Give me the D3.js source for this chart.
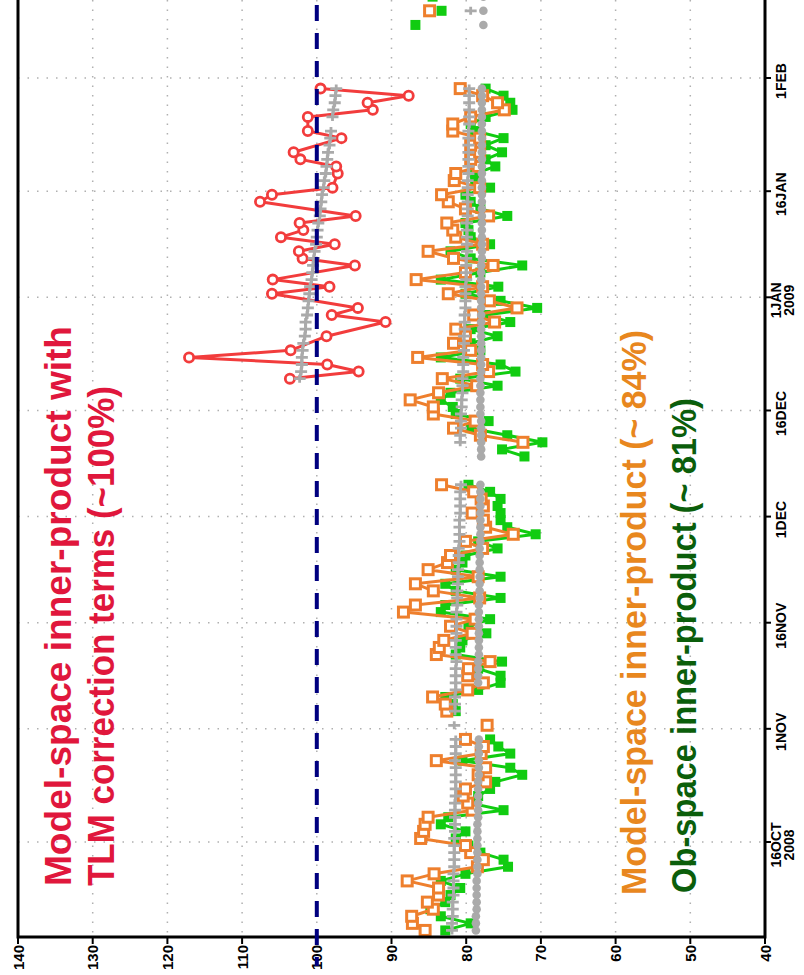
<!DOCTYPE html>
<html>
<head>
<meta charset="utf-8">
<script src="https://cdn.jsdelivr.net/npm/d3@7"></script>
<style>
body { margin: 0; background: #fff; }
svg text { font-family: "Liberation Sans", Arial, sans-serif; font-weight: bold; }
</style>
</head>
<body>
<svg width="804" height="975"></svg>
<script>
var gap = function (n) { return new Array(n).fill(null); };

// value axis (drawn along the bottom, 140 on the left)
var valueTicks = [140, 130, 120, 110, 100, 90, 80, 70, 60, 50, 40];

// date axis (drawn along the right side, time runs upward)
var dateTicks = [Date.UTC(2008,9,16), Date.UTC(2008,10,1), Date.UTC(2008,10,16), Date.UTC(2008,11,1),
                 Date.UTC(2008,11,16), Date.UTC(2009,0,1), Date.UTC(2009,0,16), Date.UTC(2009,1,1)];
var dateLabels = [["16OCT", "2008"], ["1NOV"], ["16NOV"], ["1DEC"], ["16DEC"], ["1JAN", "2009"], ["16JAN"], ["1FEB"]];

// daily values, 12Z, first value on 3 Oct 2008
var obsStart = Date.UTC(2008, 9, 3, 12);
// daily values, 12Z, first value on 20 Dec 2008
var tlmStart = Date.UTC(2008, 11, 20, 12);

// Model-space inner-product (orange)
var modelSpace = [].concat(
  [85.5, 87.2, 87.3, 84.4, 85.2, 83.7, 83.7, 87.9, 84.3, 78.5, 77.7, 79.4, 80.1],
  [86.1, 85.7, 85.5, 85.1, 79.2, 79.8, 80.4, 80.1, 77.4, 78.4, 77.4, 84.0, 78.0, 77.7, 80.1],
  [null, 77.2, null],
  [82.6, 82.8, 84.5, 79.8, 77.7, 79.8, 79.7, 76.8, 84.0, 83.6, 83.0, 79.2, 82.1, 78.8, 88.4, 86.8, 78.2,
   84.4, 86.8, 78.4, 85.1, 82.5, 82.1, 77.8, 80.1, 73.7, 77.4, 77.7, 79.2, 77.7, 78.0, 79.0, 83.3],
  gap(5),
  [72.4, 78.1, 81.7, 78.8, 84.4, 84.4, 87.5, 83.7, 78.6, 83.2,
   77.0, 77.8, 86.5, 79.4, 81.7, 80.1, 81.4, 76.2, 79.0, 73.2,
   76.9, 82.4, 77.8, 86.7, 80.1, 76.4, 81.7, 85.1, 77.8, 81.4,
   81.8, 82.6, 77.0, 80.1, 82.4, 83.3, 78.2, 81.6, 81.4, 78.4,
   79.4, 78.2, 79.4, 78.2, 81.8, 81.8, 79.4, 74.9, 75.8, 77.8, 80.8],
  gap(10),
  [84.9]
);

// Ob-space inner-product (green)
var obSpace = [].concat(
  [82.8, 79.4, 83.4, 84.8, 82.8, 82.1, 80.8, 83.4, 80.1, 74.4, 75.0, 78.1, 79.7],
  [81.4, 80.1, 83.4, 82.4, 75.0, 79.4, 78.4, 76.8, 76.1, 72.5, 74.1, 80.5, 74.1, 75.7, 76.8],
  gap(3),
  [81.4, 81.8, 82.8, 78.4, 75.4, 75.4, 78.4, 75.2, 81.4, 80.8, 80.5, 77.3, 79.7, 76.8, 83.4, 82.8, 75.4,
   81.4, 82.8, 75.4, 81.4, 80.5, 80.1, 75.8, 78.4, 70.7, 74.5, 75.4, 75.4, 75.8, 75.4, 76.8, 79.7],
  gap(3),
  [72.2, 75.2, 69.8, 74.5, 79.4, 77.0, 81.4, 81.8, 83.4, 82.1,
   75.8, 80.8, 73.4, 75.4, 83.4, 78.1, 79.4, 75.8, 79.4, 74.1,
   77.4, 70.5, 75.4, 80.1, 75.7, 83.4, 78.1, 72.5, 79.4, 82.1,
   76.8, 79.4, 79.7, 80.1, 74.5, 78.1, 79.4, 80.1, 76.8, 78.8,
   78.8, 76.1, 77.4, 75.2, 77.4, 75.0, 78.8, 79.4, 77.4, 73.8,
   74.1, 75.0, 77.4],
  gap(8),
  [86.8, null, 83.3, null, 84.5]
);

// running means (grey)
var modelSpaceMean = [].concat(
  [81.9, 81.9, 81.8, 81.8, 81.8, 81.7, 81.7, 81.7, 81.7, 81.6, 81.6, 81.6, 81.6],
  [81.6, 81.5, 81.5, 81.5, 81.5, 81.5, 81.4, 81.4, 81.4, 81.4, 81.4, 81.5, 81.4, 81.4, 81.4],
  [null, 81.6, null],
  [81.5, 81.5, 81.5, 81.4, 81.4, 81.4, 81.4, 81.3, 81.4, 81.4, 81.4, 81.3, 81.3, 81.3, 81.3, 81.2, 81.2,
   81.2, 81.1, 81.1, 81.1, 81.0, 81.0, 81.0, 80.9, 80.9, 80.9, 80.9, 80.8, 80.8, 80.8, 80.8, 80.7],
  gap(5),
  [80.8, 80.8, 80.7, 80.7, 80.7, 80.6, 80.6, 80.5, 80.5, 80.5,
   80.4, 80.4, 80.4, 80.3, 80.3, 80.3, 80.2, 80.2, 80.2, 80.1,
   80.1, 80.1, 80.1, 80.0, 80.0, 80.0, 80.0, 79.9, 79.9, 79.9,
   79.9, 79.9, 79.8, 79.8, 79.8, 79.8, 79.8, 79.8, 79.7, 79.7,
   79.7, 79.7, 79.7, 79.7, 79.7, 79.6, 79.6, 79.6, 79.6, 79.6, 79.6],
  gap(10),
  [79.4]
);

var obSpaceMean = [].concat(
  [78.7, 78.7, 78.7, 78.6, 78.6, 78.6, 78.6, 78.6, 78.5, 78.5, 78.5, 78.5, 78.5, 78.5,
   78.5, 78.5, 78.4, 78.4, 78.4, 78.4, 78.4, 78.4, 78.3, 78.3, 78.3, 78.3, 78.3, 78.3],
  gap(7),
  [78.4, 78.4, 78.4, 78.4, 78.3, 78.3, 78.3, 78.3, 78.3, 78.3, 78.3, 78.3, 78.2, 78.2, 78.2,
   78.2, 78.2, 78.2, 78.2, 78.2, 78.1, 78.1, 78.1, 78.1, 78.1, 78.1, 78.1, 78.1, 78.1],
  gap(3),
  [78.0, 78.0, 78.0, 78.0, 78.0, 78.0, 78.1, 78.1, 78.1, 78.1,
   78.1, 78.1, 78.0, 78.0, 78.0, 78.0, 78.0, 78.0, 78.0, 78.0,
   78.0, 78.0, 78.0, 78.0, 78.0, 78.0, 78.0, 78.0, 77.9, 77.9,
   77.9, 77.9, 77.9, 77.9, 77.9, 77.9, 77.9, 77.9, 77.9, 77.9,
   77.9, 77.9, 77.9, 77.9, 77.9, 77.9, 77.9, 77.9, 77.9, 77.9,
   77.9, 77.9, 77.9],
  gap(8),
  [77.7, null, 77.7, null, 77.7]
);

// Model-space inner-product with TLM correction terms (red) and its mean
var tlmSpace = [103.6, 94.4, 98.6, 117.1, 103.5, null, 98.7, null, 90.8, 98.0, 94.5, null, 106.0, 98.3,
  105.9, null, 94.9, 101.9, 102.4, 97.6, 104.8, 101.8, 102.3, 94.8, null, 107.6, 106.0, 97.9, null,
  97.2, 97.4, 102.2, 103.1, null, 96.7, 101.2, null, 101.2, 92.5, 93.2, 87.7, 99.5];
var tlmSpaceMean = [102.3, 102.1, 102.0, 102.0, 101.9, 101.8, 101.6, 101.5, 101.5, 101.3, 101.2, 101.1,
  101.0, 100.9, 100.7, 100.6, 100.5, 100.4, 100.3, 100.1, 100.0, 99.9, 99.8, 99.6, 99.5, 99.4, 99.3,
  99.1, 99.0, 98.8, 98.7, 98.6, 98.5, 98.3, 98.2, 98.1, null, 97.9, 97.8, 97.6, 97.5, 97.4];

var svg = d3.select("svg");

var x = d3.scaleLinear().domain([140, 40]).range([18, 765]);
var y = d3.scaleUtc()
    .domain([Date.UTC(2008, 9, 16), Date.UTC(2009, 1, 1)])
    .range([842, 78]);

var bottom = 937, left = 18, right = 765;

function points(arr, start) {
  return arr.map(function (v, i) { return {t: new Date(start + i * 864e5), v: v}; });
}

svg.append("clipPath").attr("id", "plot")
  .append("rect").attr("x", left).attr("y", -20).attr("width", right - left).attr("height", bottom + 20);

// grid
var grid = svg.append("g").attr("stroke", "#b0b0b0").attr("stroke-width", 1.5)
    .attr("stroke-dasharray", "1.5,8");
grid.selectAll(".gx").data(valueTicks.slice(1, -1)).enter().append("line")
  .attr("x1", x).attr("x2", x).attr("y1", 0).attr("y2", bottom);
grid.selectAll(".gy").data(dateTicks).enter().append("line")
  .attr("x1", left).attr("x2", right)
  .attr("y1", function (d) { return y(d); }).attr("y2", function (d) { return y(d); });

var plot = svg.append("g").attr("clip-path", "url(#plot)");

var line = d3.line()
  .defined(function (d) { return d.v != null; })
  .x(function (d) { return x(d.v); })
  .y(function (d) { return y(d.t); });

function drawSeries(data, color, width) {
  plot.append("path").datum(data)
    .attr("fill", "none").attr("stroke", color).attr("stroke-width", width)
    .attr("stroke-linejoin", "round").attr("d", line);
  return data.filter(function (d) { return d.v != null; });
}

// green: filled squares
var green = drawSeries(points(obSpace, obsStart), "#11cc11", 3);
plot.append("g").selectAll("rect").data(green).enter().append("rect")
  .attr("x", function (d) { return x(d.v) - 5; })
  .attr("y", function (d) { return y(d.t) - 5; })
  .attr("width", 10).attr("height", 10).attr("fill", "#11cc11");

// orange: open squares
var orange = drawSeries(points(modelSpace, obsStart), "#ee7f2d", 3);
plot.append("g").selectAll("rect").data(orange).enter().append("rect")
  .attr("x", function (d) { return x(d.v) - 5; })
  .attr("y", function (d) { return y(d.t) - 5; })
  .attr("width", 10).attr("height", 10)
  .attr("fill", "#fff").attr("stroke", "#ee7f2d").attr("stroke-width", 3);

// red: open circles, line joins across missing days
var red = points(tlmSpace, tlmStart).filter(function (d) { return d.v != null; });
drawSeries(red, "#f23c3c", 3);
plot.append("g").selectAll("circle").data(red).enter().append("circle")
  .attr("cx", function (d) { return x(d.v); })
  .attr("cy", function (d) { return y(d.t); })
  .attr("r", 4.6).attr("fill", "#fff").attr("stroke", "#f23c3c").attr("stroke-width", 2.8);

// grey means
var grey = "#aaaaaa";
var dots = drawSeries(points(obSpaceMean, obsStart), grey, 3.5);
plot.append("g").selectAll("circle").data(dots).enter().append("circle")
  .attr("cx", function (d) { return x(d.v); })
  .attr("cy", function (d) { return y(d.t); })
  .attr("r", 4.3).attr("fill", grey);

function plusMarks(data) {
  var kept = drawSeries(data, grey, 3);
  plot.append("g").selectAll("path").data(kept).enter().append("path")
    .attr("d", function (d) {
      var px = x(d.v), py = y(d.t);
      return "M" + (px - 6) + "," + py + "H" + (px + 6) + "M" + px + "," + (py - 4) + "V" + (py + 4);
    })
    .attr("stroke", grey).attr("stroke-width", 2.8);
}
plusMarks(points(modelSpaceMean, obsStart));
plusMarks(points(tlmSpaceMean, tlmStart));

// frame
var frame = svg.append("g").attr("stroke", "#000").attr("stroke-width", 3).attr("fill", "none");
frame.append("path").attr("d", "M" + left + ",0V" + bottom + "H" + right + "V0");

// bottom value axis
var vt = svg.append("g");
vt.selectAll("line").data(valueTicks).enter().append("line")
  .attr("x1", x).attr("x2", x).attr("y1", bottom).attr("y2", bottom + 7)
  .attr("stroke", "#000").attr("stroke-width", 2);
vt.selectAll("text").data(valueTicks).enter().append("text")
  .attr("transform", function (d) { return "translate(" + x(d) + "," + (bottom + 8) + ") rotate(-90)"; })
  .attr("text-anchor", "end").attr("dominant-baseline", "central")
  .attr("font-size", 15).text(function (d) { return d; });

// right date axis
var dt = svg.append("g");
dt.selectAll("line").data(dateTicks).enter().append("line")
  .attr("x1", right).attr("x2", right + 6)
  .attr("y1", function (d) { return y(d); }).attr("y2", function (d) { return y(d); })
  .attr("stroke", "#000").attr("stroke-width", 2);
dt.selectAll("text").data(dateTicks).enter().append("text")
  .attr("transform", function (d, i) {
    var cx = dateLabels[i].length > 1 ? 776 : 781;
    return "translate(" + cx + "," + (y(d) + 3) + ") rotate(-90)";
  })
  .attr("text-anchor", "middle").attr("dominant-baseline", "central")
  .attr("font-size", 14)
  .each(function (d, i) {
    var t = d3.select(this);
    dateLabels[i].forEach(function (s, k) {
      t.append("tspan").attr("x", 0).attr("dy", k === 0 ? 0 : 12.5).text(s);
    });
  });

// 100% reference line
svg.append("line")
  .attr("x1", x(100)).attr("x2", x(100)).attr("y1", 5).attr("y2", 966)
  .attr("stroke", "#00007f").attr("stroke-width", 4).attr("stroke-dasharray", "16,12");

// annotations
function note(txt, bx, by, size, len, color) {
  svg.append("text")
    .attr("transform", "translate(" + bx + "," + by + ") rotate(-90)")
    .attr("font-size", size).attr("fill", color)
    .attr("textLength", len).attr("lengthAdjust", "spacingAndGlyphs")
    .text(txt);
}
note("Model-space inner-product with", 71, 886, 37, 560, "#e0173c");
note("TLM correction terms (~100%)", 114, 886, 37, 500, "#e0173c");
note("Model-space inner-product  (~ 84%)", 646, 895, 35, 565, "#e8871e");
note("Ob-space inner-product  (~ 81%)", 696, 893, 35, 495, "#0b5e0b");
</script>
</body>
</html>
